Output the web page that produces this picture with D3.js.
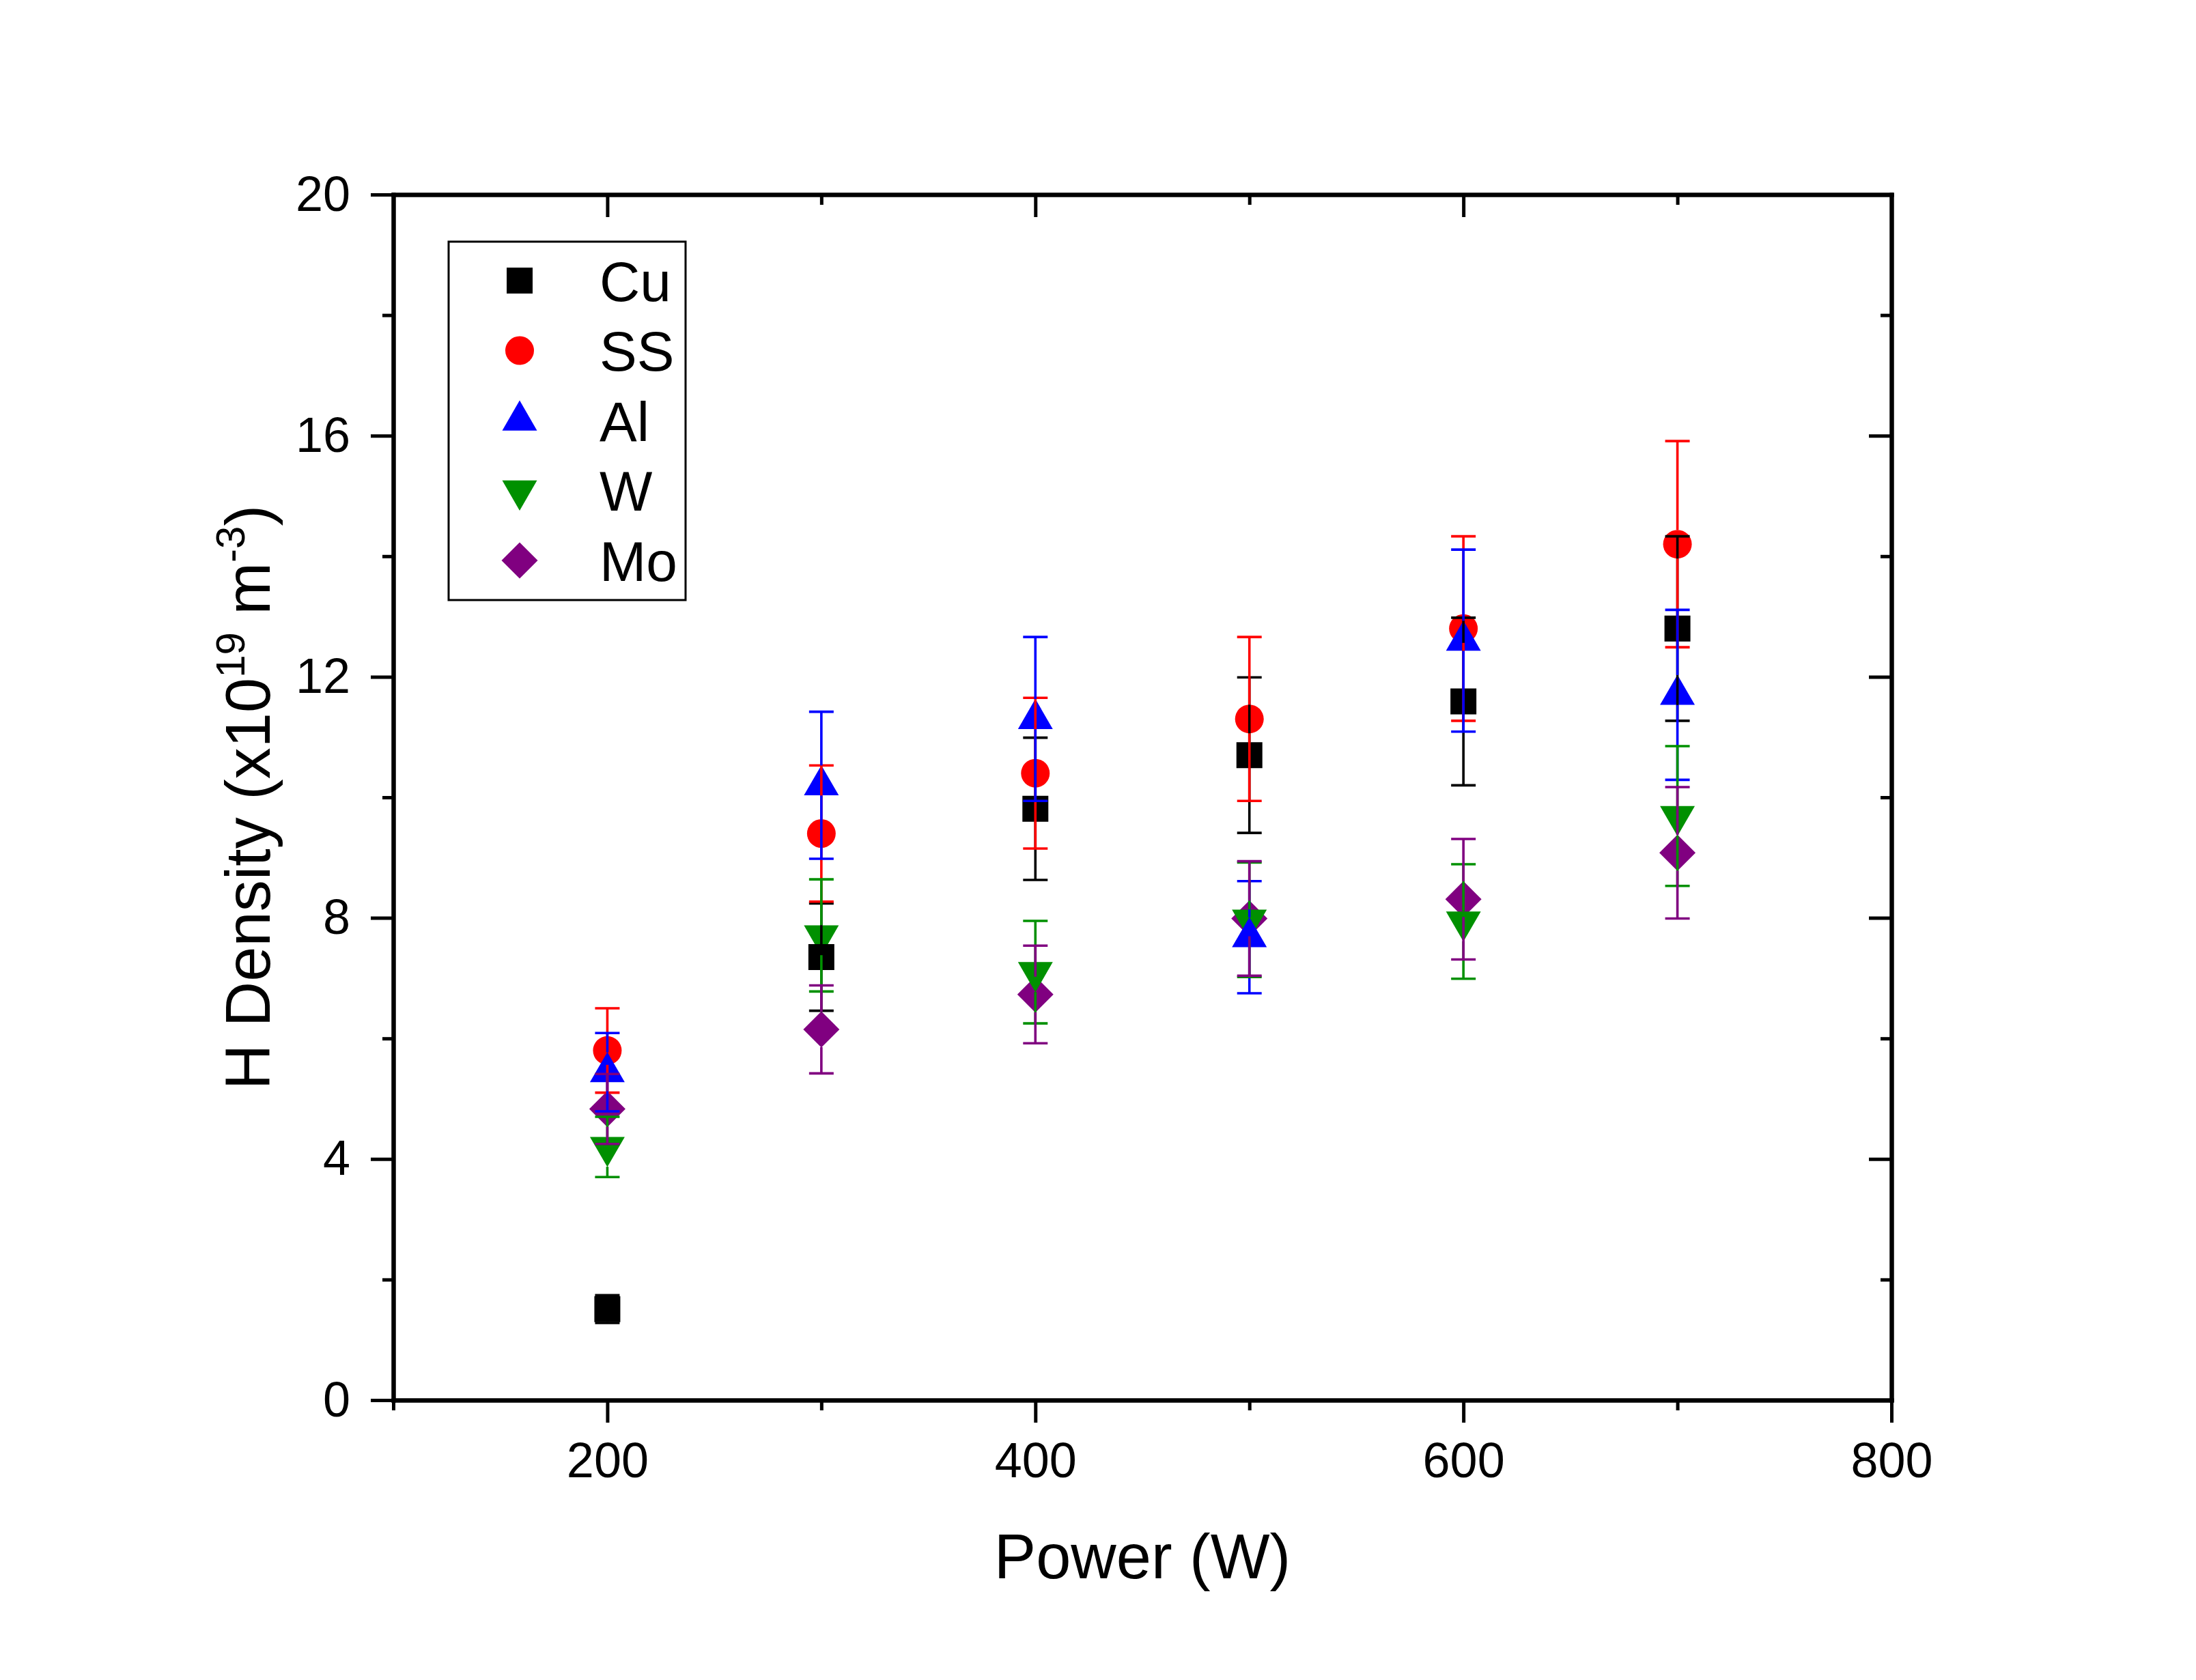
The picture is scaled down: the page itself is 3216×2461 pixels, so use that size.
<!DOCTYPE html>
<html>
<head>
<meta charset="utf-8">
<script src="https://cdn.jsdelivr.net/npm/d3@7"></script>
<style>
  body { margin: 0; background: #fff; }
  text { font-family: "Liberation Sans", Arial, sans-serif; fill: #000; }
</style>
</head>
<body>
<div id="chart"></div>
<script>
// Values
const powers = [200, 300, 400, 500, 600, 700];
const materials = ['Cu', 'SS', 'Al', 'W', 'Mo'];

const cuDensity = [1.51, 7.35, 9.81, 10.70, 11.59, 12.80];
const cuError   = [0.23, 0.89, 1.18, 1.29, 1.39, 1.53];
const ssDensity = [5.80, 9.40, 10.40, 11.30, 12.80, 14.20];
const ssError   = [0.70, 1.13, 1.25, 1.36, 1.53, 1.71];
const alDensity = [5.44, 10.20, 11.30, 7.68, 12.60, 11.70];
const alError   = [0.65, 1.22, 1.36, 0.93, 1.51, 1.41];
const wDensity  = [4.20, 7.71, 7.10, 7.97, 7.94, 9.69];
const wError    = [0.50, 0.93, 0.85, 0.95, 0.95, 1.16];
const moDensity = [4.83, 6.15, 6.73, 7.99, 8.31, 9.08];
const moError   = [0.58, 0.73, 0.81, 0.95, 1.00, 1.09];

const xMajorTicks = [200, 400, 600, 800];
const xMinorTicks = [100, 300, 500, 700];
const yMajorTicks = [0, 4, 8, 12, 16, 20];
const yMinorTicks = [2, 6, 10, 14, 18];

const W = 3216, H = 2461;
const margin = {top: 285, right: 446, bottom: 410, left: 576};
const width = W - margin.left - margin.right;
const height = H - margin.top - margin.bottom;

// marker look per material (gapUp / gapDown = how far the error bar stays off the marker)
const styles = {
  Cu: {color: '#000000', symbol: d3.symbolSquare, size: 1444, rotate: 0, gapUp: 19, gapDown: 19},
  SS: {color: '#ff0000', symbol: d3.symbolCircle, size: 1385, rotate: 0, gapUp: 21, gapDown: 21},
  Al: {color: '#0000ff', symbol: d3.symbolTriangle, size: 1126, rotate: 0, gapUp: 29, gapDown: 15},
  W:  {color: '#009000', symbol: d3.symbolTriangle, size: 1126, rotate: 180, gapUp: 15, gapDown: 29},
  Mo: {color: '#800080', symbol: d3.symbolSquare, size: 1404, rotate: 45, gapUp: 26, gapDown: 26}
};

const values = {Cu: cuDensity, SS: ssDensity, Al: alDensity, W: wDensity, Mo: moDensity};
const errors = {Cu: cuError, SS: ssError, Al: alError, W: wError, Mo: moError};

const series = materials.map(m => ({
  name: m,
  points: powers.map((p, i) => ({x: p, y: values[m][i], e: errors[m][i]}))
}));

const svg = d3.select('#chart').append('svg')
    .attr('width', W)
    .attr('height', H);

const chart = svg.append('g')
    .attr('transform', `translate(${margin.left},${margin.top})`);

const xScale = d3.scaleLinear().domain([100, 800]).range([0, width]);
const yScale = d3.scaleLinear().domain([0, 20]).range([height, 0]);

// axes: major with labels, minor without, mirrored inward on top/right
function styleAxis(g) {
  g.select('.domain').attr('stroke-width', 6).attr('stroke-linecap', 'square');
  g.selectAll('.tick line').attr('stroke-width', 5);
  g.selectAll('.tick text').attr('font-size', 72).attr('font-family', '"Liberation Sans", Arial, sans-serif');
}

chart.append('g')
    .attr('transform', `translate(0,${height})`)
    .call(d3.axisBottom(xScale).tickValues(xMinorTicks).tickSize(15).tickFormat('').tickSizeOuter(0))
    .call(styleAxis);
chart.append('g')
    .attr('transform', `translate(0,${height})`)
    .call(d3.axisBottom(xScale).tickValues(xMajorTicks).tickSize(33).tickPadding(29).tickSizeOuter(0))
    .call(styleAxis);

chart.append('g')
    .call(d3.axisLeft(yScale).tickValues(yMinorTicks).tickSize(16).tickFormat('').tickSizeOuter(0))
    .call(styleAxis);
chart.append('g')
    .call(d3.axisLeft(yScale).tickValues(yMajorTicks).tickSize(33).tickPadding(30).tickSizeOuter(0))
    .call(styleAxis);

chart.append('g')
    .call(d3.axisTop(xScale).tickValues(xMinorTicks).tickSize(-15).tickFormat('').tickSizeOuter(0))
    .call(styleAxis);
chart.append('g')
    .call(d3.axisTop(xScale).tickValues(xMajorTicks).tickSize(-33).tickFormat('').tickSizeOuter(0))
    .call(styleAxis);

chart.append('g')
    .attr('transform', `translate(${width},0)`)
    .call(d3.axisRight(yScale).tickValues(yMinorTicks).tickSize(-16).tickFormat('').tickSizeOuter(0))
    .call(styleAxis);
chart.append('g')
    .attr('transform', `translate(${width},0)`)
    .call(d3.axisRight(yScale).tickValues(yMajorTicks).tickSize(-33).tickFormat('').tickSizeOuter(0))
    .call(styleAxis);

// markers, drawn so the stacking matches the reference
const markerOrder = ['Mo', 'W', 'SS', 'Al', 'Cu'];
markerOrder.forEach(m => {
  const s = styles[m];
  const data = series.find(d => d.name === m).points;
  chart.append('g').selectAll('path')
      .data(data)
      .join('path')
      .attr('d', d3.symbol().type(s.symbol).size(s.size))
      .attr('transform', d => `translate(${xScale(d.x)},${yScale(d.y)}) rotate(${s.rotate})`)
      .attr('fill', s.color);
});

// error bars on top, not crossing their own marker
const capHalf = 18;
series.forEach(sr => {
  const s = styles[sr.name];
  const g = chart.append('g')
      .attr('stroke', s.color)
      .attr('stroke-width', 3.6)
      .attr('fill', 'none');
  sr.points.forEach(d => {
    const cx = xScale(d.x), cy = yScale(d.y);
    const top = yScale(d.y + d.e), bot = yScale(d.y - d.e);
    if (cy - top > s.gapUp) {
      g.append('line').attr('x1', cx).attr('x2', cx).attr('y1', top).attr('y2', cy - s.gapUp);
    }
    if (bot - cy > s.gapDown) {
      g.append('line').attr('x1', cx).attr('x2', cx).attr('y1', cy + s.gapDown).attr('y2', bot);
    }
    g.append('line').attr('x1', cx - capHalf).attr('x2', cx + capHalf).attr('y1', top).attr('y2', top);
    g.append('line').attr('x1', cx - capHalf).attr('x2', cx + capHalf).attr('y1', bot).attr('y2', bot);
  });
});

// axis titles
svg.append('text')
    .attr('x', margin.left + width / 2)
    .attr('y', 2312)
    .attr('text-anchor', 'middle')
    .attr('font-size', 92)
    .text('Power (W)');

const yTitle = svg.append('text')
    .attr('text-anchor', 'middle')
    .attr('font-size', 92)
    .attr('transform', `translate(395,${margin.top + height / 2}) rotate(-90)`);
yTitle.append('tspan').text('H Density (x10');
yTitle.append('tspan').attr('font-size', 60).attr('dy', -37).text('19');
yTitle.append('tspan').attr('dy', 37).text(' m');
yTitle.append('tspan').attr('font-size', 60).attr('dy', -37).text('-3');
yTitle.append('tspan').attr('dy', 37).text(')');

// legend
const legend = svg.append('g');
legend.append('rect')
    .attr('x', 657).attr('y', 354)
    .attr('width', 347).attr('height', 525)
    .attr('fill', 'none')
    .attr('stroke', '#000')
    .attr('stroke-width', 3);

const legendRow = d3.scalePoint().domain(materials).range([411, 821]);
materials.forEach(m => {
  const s = styles[m];
  const cy = legendRow(m);
  legend.append('path')
      .attr('d', d3.symbol().type(s.symbol).size(s.size))
      .attr('transform', `translate(761,${cy}) rotate(${s.rotate})`)
      .attr('fill', s.color);
  legend.append('text')
      .attr('x', 878)
      .attr('y', cy)
      .attr('dy', '0.36em')
      .attr('font-size', 82)
      .text(m);
});
</script>
</body>
</html>
